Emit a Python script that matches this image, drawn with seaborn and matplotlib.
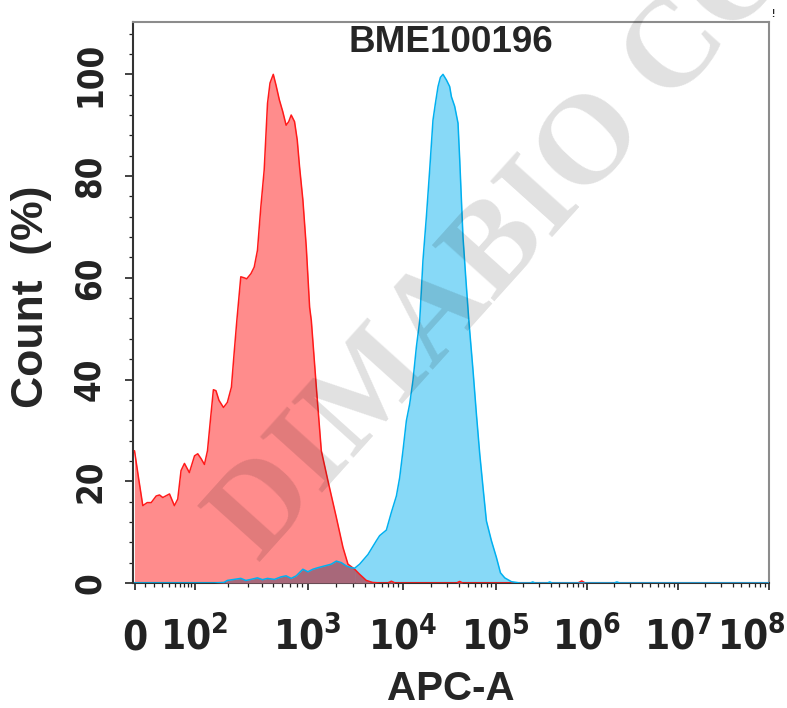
import numpy as np
import matplotlib
matplotlib.use("Agg")
import matplotlib.pyplot as plt
import matplotlib.transforms as mtransforms
import seaborn as sns
from matplotlib import font_manager
from matplotlib.ticker import FixedLocator, MultipleLocator

#------------ data ------------#
# control (red), APC-A value vs count normalised to peak (%)
red_apc = [0, 3.85, 8.05, 12.5, 16.8, 22.5, 26.6, 31, 41, 49.5,
           56, 63, 71, 84, 100, 107, 115, 123, 131, 139,
           148, 156, 166, 182, 197, 214, 226, 239, 259, 277,
           292, 318, 340, 363, 389, 416, 445, 468, 500, 528,
           565, 605, 648, 683, 718, 768, 811, 850, 909, 973,
           1050, 1094, 1235, 1394, 1636, 2005, 2354, 2657, 3125, 3527,
           4146, 4831, 5724, 7000, 7600, 8300, 38000, 41000, 44000, 800000,
           880000, 960000, 1e8]
red_pct = [26.0, 20.7, 15.2, 15.8, 15.8, 17.1, 17.3, 16.8, 17.5, 15.2,
           16.5, 22.1, 23.5, 21.7, 25.0, 25.4, 24.4, 23.3, 26.0, 31.9,
           38.0, 37.8, 35.9, 34.5, 35.5, 38.5, 45.1, 51.6, 60.2, 60.0,
           59.8, 60.8, 62.1, 65.4, 74.0, 81.2, 94.3, 98.3, 100, 97.9,
           95.0, 92.7, 90.0, 90.7, 92.0, 90.7, 87.1, 81.8, 75.3, 66.1,
           54.2, 51.6, 38.5, 26.0, 20.1, 12.9, 7.0, 3.7, 2.7, 1.7,
           0.5, 0.1, 0, 0, 0.35, 0, 0, 0.3, 0, 0,
           0.4, 0, 0]

# BME100196 stained (blue)
blue_apc = [0, 150, 184, 197, 226, 259, 287, 318, 363, 402,
            445, 511, 585, 648, 718, 795, 909, 1007, 1137, 1283,
            1510, 1775, 2005, 2264, 2555, 2884, 3125, 3527, 4315, 5288,
            5724, 6738, 7610, 8590, 9300, 10070, 10960, 11900, 12900, 14040,
            15250, 16520, 17980, 19510, 21170, 22480, 23990, 25430, 27120, 29510,
            32000, 33400, 36230, 39330, 41030, 42780, 44490, 47560, 51400, 57000,
            62000, 67300, 73000, 79400, 89900, 101800, 112700, 125700, 148800, 183600,
            240000, 255000, 270000, 370000, 392000, 415000, 2.0e6, 2.14e6, 2.3e6, 1e8]
blue_pct = [0, 0, 0.1, 0.5, 0.7, 0.9, 0.5, 0.7, 1.0, 0.65,
            0.9, 0.7, 1.2, 1.4, 0.9, 1.4, 2.7, 2.2, 2.7, 3.0,
            3.35, 3.7, 4.3, 4.0, 3.35, 3.0, 2.9, 3.7, 5.6, 8.3,
            9.3, 10.4, 13.9, 17.1, 20.7, 26.0, 31.9, 35.2, 39.8, 46.4,
            51.6, 63.4, 72.0, 81.2, 91.0, 94.3, 97.6, 99.4, 100, 98.9,
            97.6, 95.6, 93.7, 90.4, 83.2, 75.3, 68.0, 60.2, 51.6, 41.8,
            33.2, 25.4, 18.8, 12.2, 8.3, 5.0, 2.0, 1.0, 0.25, 0,
            0, 0.2, 0, 0, 0.2, 0, 0, 0.2, 0, 0]

# where the two curves cross (overlap shading switches from blue to red)
cross_apc = 3125

x_ticks = [0, 1e2, 1e3, 1e4, 1e5, 1e6, 1e7, 1e8]
x_ticklabels = ['$0$', '$10^{2}$', '$10^{3}$', '$10^{4}$', '$10^{5}$',
                '$10^{6}$', '$10^{7}$', '$10^{8}$']
y_ticks = [0, 20, 40, 60, 80, 100]

#------------ biexponential-like display axis ------------#
C = 30.0
axis_vals = np.array([-100, 0, 1e2, 1e3, 1e4, 1e5, 1e6, 1e7, 1e8, 1e9])
axis_pos = np.array([-60, 0, 60, 173, 268, 361, 452, 543, 634, 725])
U = np.arcsinh(axis_vals / C)


def fwd(x):
    return np.interp(np.arcsinh(np.asarray(x, dtype=float) / C), U, axis_pos)


def inv(p):
    return C * np.sinh(np.interp(np.asarray(p, dtype=float), axis_pos, U))


#------------ style ------------#
sns.set_style('ticks')

# look for a narrow bold face for the tick numbers
narrow_file = None
narrow_spec = 'Liberation Sans:bold'
for f in font_manager.fontManager.ttflist:
    if f.name == 'Liberation Sans Narrow' and f.weight in ('bold', 700):
        narrow_file, narrow_spec = f.fname, 'Liberation Sans Narrow:bold'
        break
if narrow_file is None:
    for f in font_manager.fontManager.ttflist:
        if f.name == 'DejaVu Sans' and f.stretch == 'condensed' and f.weight in ('bold', 700):
            narrow_file, narrow_spec = f.fname, 'DejaVu Sans:bold:stretch=condensed'
            break

plt.rcParams['font.family'] = ['Liberation Sans', 'DejaVu Sans']
plt.rcParams['font.weight'] = 'bold'
plt.rcParams['mathtext.fontset'] = 'custom'
plt.rcParams['mathtext.bf'] = narrow_spec
plt.rcParams['mathtext.rm'] = narrow_spec
plt.rcParams['mathtext.default'] = 'bf'

if narrow_file:
    tick_prop = font_manager.FontProperties(fname=narrow_file)
    xsize, ysize = 29, 25
else:
    tick_prop = font_manager.FontProperties(family='Liberation Sans', weight='bold')
    xsize, ysize = 27, 24

fig = plt.figure(figsize=(7.87, 7.08), dpi=100)
ax = fig.add_axes([0.169, 0.1766, 0.808, 0.7924])
ax.set_xscale('function', functions=(fwd, inv))

red = '#FF1A1A'
blue = '#00B0F0'
mauve = '#A8687A'

red_apc = np.array(red_apc)
red_pct = np.array(red_pct)
blue_apc = np.array(blue_apc)
blue_pct = np.array(blue_pct)

ax.fill_between(red_apc, red_pct, color=red, alpha=0.5, lw=0, zorder=1)
ax.fill_between(blue_apc, blue_pct, color=blue, alpha=0.47, lw=0, zorder=2)
b = blue_apc <= cross_apc
r = red_apc >= cross_apc
ax.fill_between(blue_apc[b], blue_pct[b], color=mauve, lw=0, zorder=3)
ax.fill_between(red_apc[r], red_pct[r], color=mauve, lw=0, zorder=3)

sns.lineplot(x=red_apc, y=red_pct, color=red, lw=1.1, sort=False,
             estimator=None, ax=ax, zorder=4)
sns.lineplot(x=blue_apc, y=blue_pct, color=blue, lw=1.1, sort=False,
             estimator=None, ax=ax, zorder=5)

ax.set_xlim(inv(-1.5), 1e8)
ax.set_ylim(0, 110.3)

# ticks
minor = [k * 10.0 ** d for d in range(2, 8) for k in range(2, 10)]
minor += [10, 20, 30, 40, 50, 60, 70, 80, 90]
ax.xaxis.set_major_locator(FixedLocator(x_ticks))
ax.xaxis.set_minor_locator(FixedLocator(minor))
ax.set_xticks(x_ticks, x_ticklabels)
ax.yaxis.set_major_locator(FixedLocator(y_ticks))
ax.yaxis.set_minor_locator(MultipleLocator(4))
ax.set_yticks(y_ticks, [str(v) for v in y_ticks])

ax.tick_params(axis='x', which='major', length=5, width=1.2, pad=43,
               labelsize=xsize, colors='#222222')
ax.tick_params(axis='x', which='minor', length=2.8, width=0.9, color='#222222')
ax.tick_params(axis='y', which='major', length=6, width=1.2, pad=13,
               labelsize=ysize, colors='#222222', labelrotation=90)
ax.tick_params(axis='y', which='minor', length=3, width=0.9, color='#222222')
for lbl in ax.get_xticklabels():
    lbl.set_va('baseline')
for lbl in ax.get_yticklabels():
    lbl.set_fontproperties(tick_prop)
    lbl.set_size(ysize)
    lbl.set_va('center')
# the last decade label sits a little left so it stays on the canvas
last = ax.get_xticklabels()[-1]
last.set_transform(last.get_transform() +
                   mtransforms.ScaledTranslation(-0.18, 0, fig.dpi_scale_trans))

for side in ['top', 'right']:
    ax.spines[side].set_color('#8c8c8c')
    ax.spines[side].set_linewidth(1.5)
for side in ['left', 'bottom']:
    ax.spines[side].set_color('#333333')
    ax.spines[side].set_linewidth(1.5)

ax.text(0.5, 0.963, 'BME100196', transform=ax.transAxes, ha='center',
        va='center', fontsize=26.5, fontweight='bold', zorder=6)
ax.set_xlabel('APC-A', fontsize=29, fontweight='bold')
ax.xaxis.set_label_coords(0.5, -0.155)
ax.set_ylabel('Count  (%)', fontsize=32, fontweight='bold')
ax.yaxis.set_label_coords(-0.128, 0.51)

# watermark
fig.text(0.328, 0.205, 'DIMABIO CO.,LTD', fontsize=91, fontweight='bold',
         family=['Liberation Serif', 'DejaVu Serif'], color='black', alpha=0.12,
         rotation=48, rotation_mode='anchor', ha='left', va='baseline', zorder=10)
fig.text(0.982, 0.98, '!', fontsize=7, fontweight='bold', color='#222222',
         ha='center', va='center')

fig.savefig('out.png', dpi=100)
